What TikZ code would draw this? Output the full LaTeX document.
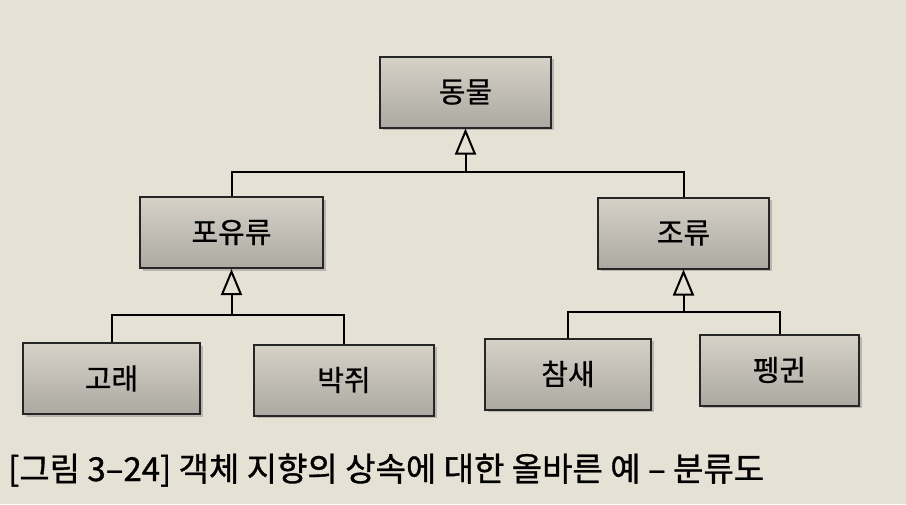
\documentclass[tikz,border=0pt]{standalone}
\usepackage{fontspec}
\setmainfont{Noto Sans CJK KR}
\newfontfamily\boxfont[FakeBold=0.7]{Noto Sans CJK KR}
\newfontfamily\capfont[FakeBold=1.0]{Noto Sans CJK KR}
\usetikzlibrary{arrows.meta,shadows}
\definecolor{paper}{RGB}{229,225,212}
\definecolor{boxtop}{RGB}{214,210,200}
\definecolor{boxbot}{RGB}{172,169,162}

\begin{document}
\begin{tikzpicture}[x=1pt, y=-1pt,
  cls/.style={draw=black!85, line width=2pt, top color=boxtop, bottom color=boxbot,
    minimum height=71pt, font=\boxfont\fontsize{29}{33}\selectfont,
    drop shadow={shadow xshift=2.5pt, shadow yshift=-2.5pt, fill=black!45, opacity=0.5}},
  inh/.style={line width=2pt, -{Triangle[open, length=26pt, width=21pt, line width=2pt]}},
  link/.style={line width=2pt}]

  % paper
  \fill[paper] (0,0) rectangle (906,504);
  \useasboundingbox (0,0) rectangle (906,504);

  % classes
  \node[cls, minimum width=171pt] (animal)  at (465.5, 92)  {동물};
  \node[cls, minimum width=183pt] (mammal)  at (231.5, 232.5) {포유류};
  \node[cls, minimum width=171pt] (bird)    at (683.5, 233) {조류};
  \node[cls, minimum width=177pt] (whale)   at (111.5, 378.5) {고래};
  \node[cls, minimum width=180pt] (bat)     at (344, 380) {박쥐};
  \node[cls, minimum width=166pt] (sparrow) at (568, 374) {참새};
  \node[cls, minimum width=159pt] (penguin) at (779.5, 370) {펭귄};

  \coordinate (jtop)   at (465.5, 172);
  \coordinate (jleft)  at (231.5, 315);
  \coordinate (jright) at (683.5, 312);

  \draw[inh] (jtop) -- (animal.south);
  \draw[link] (mammal.north) |- (jtop) -| (bird.north); %% mammal, bird -> animal
  \draw[inh] (jleft) -- (mammal.south);
  \draw[link] (whale.north) |- (jleft) -| (bat.north); %% whale, bat -> mammal
  \draw[inh] (jright) -- (bird.south);
  \draw[link] (sparrow.north) |- (jright) -| (penguin.north); %% sparrow, penguin -> bird

  % caption
  \node[anchor=base west, font=\capfont\fontsize{33}{37}\selectfont, inner sep=0pt] (caption)
    at (8, 481) {[그림 3–24] 객체 지향의 상속에 대한 올바른 예 – 분류도};
\end{tikzpicture}
\end{document}
